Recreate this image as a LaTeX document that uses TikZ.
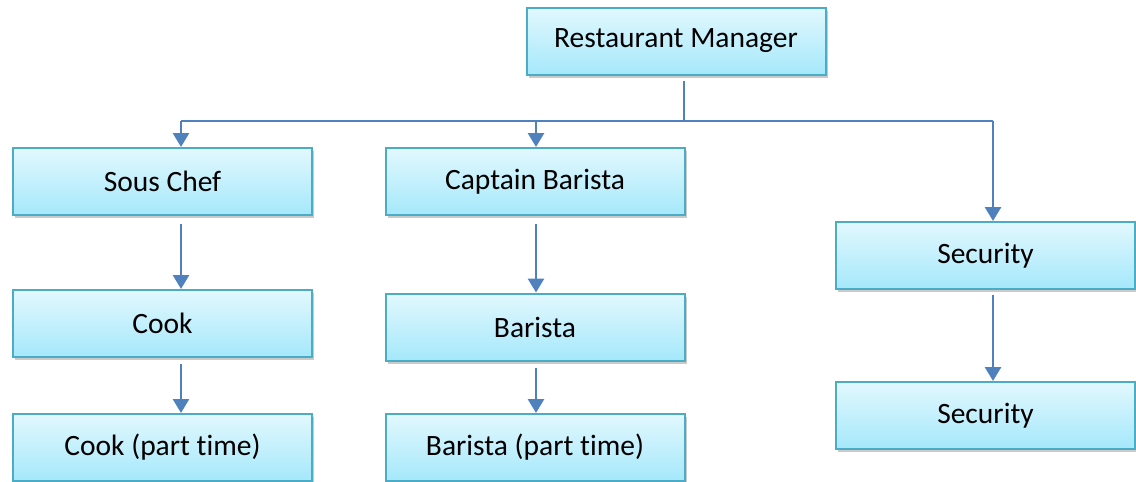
\documentclass[tikz,border=0pt]{standalone}
\usepackage{fontspec}
\setmainfont{Carlito}[Ligatures={NoCommon}]
\usetikzlibrary{arrows.meta,shadows,calc}
\definecolor{boxtop}{HTML}{E2F8FE}
\definecolor{boxbot}{HTML}{A5E8FB}
\definecolor{boxline}{HTML}{4BACC6}
\definecolor{arr}{HTML}{4F81BD}
\tikzset{
  orgbox/.style={draw=boxline, line width=2pt, top color=boxtop, bottom color=boxbot,
    minimum width=299pt, minimum height=67pt, inner sep=0pt, font=\fontsize{29.5}{34}\selectfont,
    drop shadow={shadow xshift=2pt, shadow yshift=-3pt, opacity=0.35, fill=black!60}},
  conn/.style={draw=arr, line width=2.8pt},
  arrowc/.style={conn, -{Triangle[width=16pt,length=14pt]}},
}
\begin{document}
\begin{tikzpicture}[x=1pt,y=-1pt]
\useasboundingbox (0,0) rectangle (1136,482);
\node[orgbox] (mgr) at (676,41) {Restaurant Manager};
\node[orgbox] (sous) at (162.5,181.5) {Sous Chef};
\node[orgbox] (capt) at (535,181.5) {Captain Barista};
\node[orgbox] (sec1) at (985.5,255.5) {Security};
\node[orgbox] (cook) at (162.5,323.5) {Cook};
\node[orgbox] (bar) at (535,327) {Barista};
\node[orgbox] (sec2) at (985.5,415.5) {Security};
\node[orgbox] (cookp) at (162.5,447.5) {Cook (part time)};
\node[orgbox] (barp) at (535,447.5) {Barista (part time)};
\coordinate (cA) at (181,0);
\coordinate (cB) at (536,0);
\coordinate (cC) at (993,0);
\coordinate (cM) at (684,0);
\coordinate (bus) at (0,121);
\coordinate (busM) at (bus -| cM);
\coordinate (busA) at (bus -| cA);
\coordinate (busC) at (bus -| cC);
\draw[conn] ($(mgr.south -| cM)+(0,5)$) -- (busM);
\draw[conn] (busA) -- (busC);
\draw[arrowc] (busA) -- (sous.north -| cA);
\draw[arrowc] (bus -| cB) -- (capt.north -| cB);
\draw[arrowc] (busC) -- (sec1.north -| cC);
\draw[arrowc] ($(sous.south -| cA)+(0,8)$) -- (cook.north -| cA);
\draw[arrowc] ($(cook.south -| cA)+(0,6)$) -- (cookp.north -| cA);
\draw[arrowc] ($(capt.south -| cB)+(0,8)$) -- (bar.north -| cB);
\draw[arrowc] ($(bar.south -| cB)+(0,6)$) -- (barp.north -| cB);
\draw[arrowc] ($(sec1.south -| cC)+(0,5)$) -- (sec2.north -| cC);
\end{tikzpicture}
\end{document}
